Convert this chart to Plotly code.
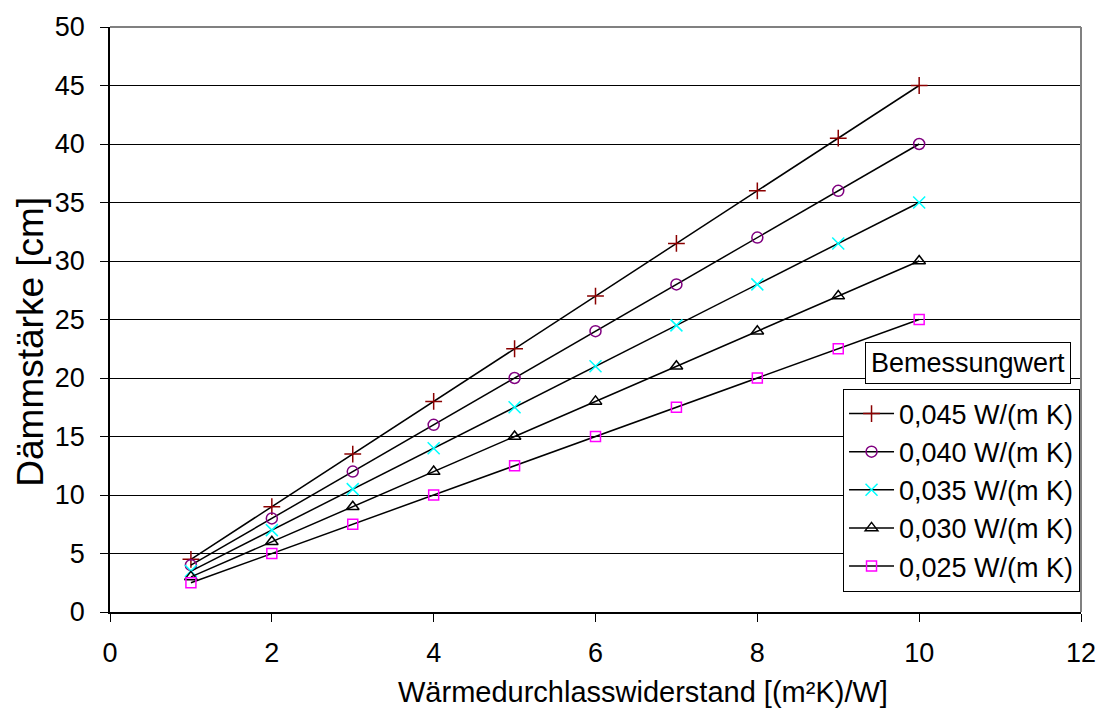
import plotly.graph_objects as go

R = [1, 2, 3, 4, 5, 6, 7, 8, 9, 10]
d_045 = [4.5, 9, 13.5, 18, 22.5, 27, 31.5, 36, 40.5, 45]
d_040 = [4, 8, 12, 16, 20, 24, 28, 32, 36, 40]
d_035 = [3.5, 7, 10.5, 14, 17.5, 21, 24.5, 28, 31.5, 35]
d_030 = [3, 6, 9, 12, 15, 18, 21, 24, 27, 30]
d_025 = [2.5, 5, 7.5, 10, 12.5, 15, 17.5, 20, 22.5, 25]
names = ["0,045 W/(m K)", "0,040 W/(m K)", "0,035 W/(m K)", "0,030 W/(m K)", "0,025 W/(m K)"]
x_ticks = [0, 2, 4, 6, 8, 10, 12]
y_ticks = [0, 5, 10, 15, 20, 25, 30, 35, 40, 45, 50]

series = [d_045, d_040, d_035, d_030, d_025]
colors = ["#8B0000", "#800080", "#00FFFF", "#000000", "#FF00FF"]
symbols = ["cross-thin", "circle-open", "x-thin", "triangle-up-open", "square-open"]
sizes = [12, 11, 12, 11, 10]

FONT = "Liberation Sans, Arial, sans-serif"
fig = go.Figure()
for ys, nm, c, s, sz in zip(series, names, colors, symbols, sizes):
    fig.add_trace(go.Scatter(
        x=R, y=ys, name=nm, mode="lines+markers",
        line=dict(color="black", width=1.5),
        marker=dict(symbol=s, size=sz, color=c, line=dict(color=c, width=1.5)),
    ))

fig.update_layout(
    width=1108, height=725,
    margin=dict(l=110, r=21, t=20, b=113),
    paper_bgcolor="white", plot_bgcolor="white",
    font=dict(family=FONT, size=27, color="black"),
    showlegend=True,
    legend=dict(x=0.999, xanchor="right", y=0.035, yanchor="bottom",
                bgcolor="white", bordercolor="black", borderwidth=1,
                font=dict(family=FONT, size=27, color="black"),
                tracegroupgap=0, itemwidth=45),
    xaxis=dict(range=[0, 12], tickvals=x_ticks, ticks="outside", ticklen=8,
               tickcolor="black", showline=True, linecolor="black", linewidth=1.5,
               showgrid=False, zeroline=False, ticklabelstandoff=8,
               tickfont=dict(size=27)),
    yaxis=dict(range=[0, 50], tickvals=y_ticks, ticks="outside", ticklen=8,
               tickcolor="black", showline=True, linecolor="black", linewidth=1.5,
               showgrid=True, gridcolor="black", gridwidth=1, zeroline=False,
               ticklabelstandoff=10, tickfont=dict(size=27)),
    shapes=[
        dict(type="line", xref="paper", yref="paper", x0=0, x1=1, y0=1, y1=1,
             line=dict(color="#808080", width=2)),
        dict(type="line", xref="paper", yref="paper", x0=1, x1=1, y0=0, y1=1,
             line=dict(color="#808080", width=2)),
    ],
    annotations=[
        dict(text="Bemessungwert", xref="paper", yref="paper", x=0.884, y=0.425,
             xanchor="center", yanchor="middle", showarrow=False,
             font=dict(family=FONT, size=27, color="black"),
             bgcolor="white", bordercolor="black", borderwidth=1, borderpad=5),
        dict(text="Wärmedurchlasswiderstand [(m²K)/W]", xref="paper", yref="paper",
             x=(646 - 110) / 977, y=(612 - 693) / 592, xanchor="center", yanchor="middle",
             showarrow=False, font=dict(family=FONT, size=29, color="black")),
        dict(text="Dämmstärke [cm]", xref="paper", yref="paper",
             x=(30 - 110) / 977, y=(612 - 338) / 592, xanchor="center", yanchor="middle",
             textangle=-90, showarrow=False, font=dict(family=FONT, size=37, color="black")),
    ],
)

fig.write_html("out.html")
